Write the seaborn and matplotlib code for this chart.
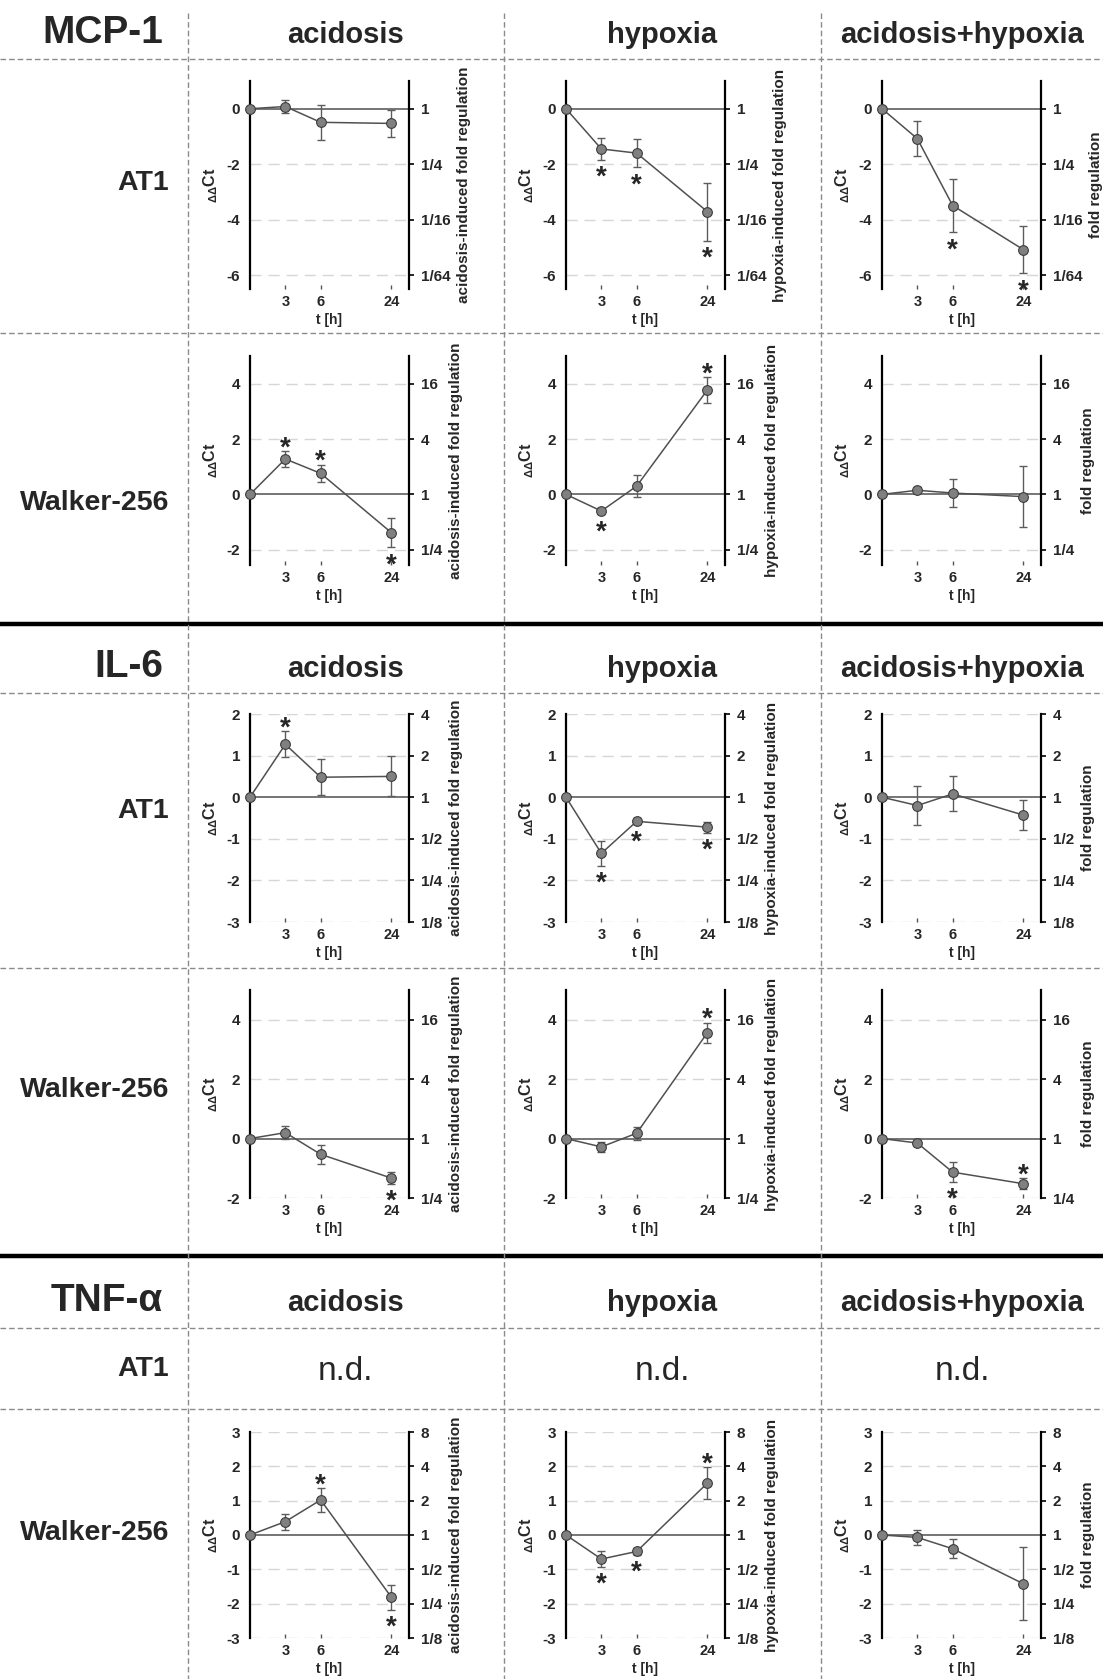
import matplotlib
matplotlib.use("Agg")
import matplotlib.pyplot as plt
from matplotlib.lines import Line2D
import pandas as pd
import seaborn as sns

sns.set_theme(style="white")
plt.rcParams["font.family"] = ["Liberation Sans", "DejaVu Sans"]
plt.rcParams["font.weight"] = "bold"
plt.rcParams["axes.labelweight"] = "bold"
plt.rcParams["axes.unicode_minus"] = False
plt.rcParams["mathtext.fontset"] = "custom"
plt.rcParams["mathtext.rm"] = "Liberation Sans"
plt.rcParams["mathtext.bf"] = "Liberation Sans:bold"
plt.rcParams["mathtext.it"] = "Liberation Sans:italic"

W, H = 1103, 1679
fig = plt.figure(figsize=(W / 100, H / 100), dpi=100)

# ---------------------------------------------------------------- data
genes = ["MCP-1", "IL-6", "TNF-α"]
conditions = ["acidosis", "hypoxia", "acidosis+hypoxia"]
cell_lines = ["AT1", "Walker-256"]
time_labels = ["3", "6", "24"]
x_pos = [0, 1, 2, 4]          # t = 0, 3, 6, 24 h drawn at category slots

# MCP-1, AT1
mcp1_at1_acid = [0, 0.08, -0.49, -0.53]
mcp1_at1_acid_err = [0, 0.23, 0.64, 0.48]
mcp1_at1_acid_sig = ["", "", "", ""]
mcp1_at1_hyp = [0, -1.45, -1.60, -3.71]
mcp1_at1_hyp_err = [0, 0.39, 0.51, 1.05]
mcp1_at1_hyp_sig = ["", "d", "d", "d"]
mcp1_at1_ah = [0, -1.08, -3.49, -5.08]
mcp1_at1_ah_err = [0, 0.64, 0.97, 0.85]
mcp1_at1_ah_sig = ["", "", "d", "d"]

# MCP-1, Walker-256
mcp1_wk_acid = [0, 1.28, 0.76, -1.38]
mcp1_wk_acid_err = [0, 0.28, 0.31, 0.53]
mcp1_wk_acid_sig = ["", "u", "u", "d"]
mcp1_wk_hyp = [0, -0.60, 0.30, 3.77]
mcp1_wk_hyp_err = [0, 0.12, 0.40, 0.47]
mcp1_wk_hyp_sig = ["", "d", "", "u"]
mcp1_wk_ah = [0, 0.15, 0.05, -0.08]
mcp1_wk_ah_err = [0, 0.10, 0.50, 1.10]
mcp1_wk_ah_sig = ["", "", "", ""]

# IL-6, AT1
il6_at1_acid = [0, 1.27, 0.48, 0.50]
il6_at1_acid_err = [0, 0.31, 0.43, 0.48]
il6_at1_acid_sig = ["", "u", "", ""]
il6_at1_hyp = [0, -1.35, -0.58, -0.72]
il6_at1_hyp_err = [0, 0.30, 0.07, 0.13]
il6_at1_hyp_sig = ["", "d", "d", "d"]
il6_at1_ah = [0, -0.20, 0.08, -0.43]
il6_at1_ah_err = [0, 0.48, 0.42, 0.37]
il6_at1_ah_sig = ["", "", "", ""]

# IL-6, Walker-256
il6_wk_acid = [0, 0.20, -0.53, -1.33]
il6_wk_acid_err = [0, 0.22, 0.33, 0.19]
il6_wk_acid_sig = ["", "", "", "d"]
il6_wk_hyp = [0, -0.28, 0.18, 3.56]
il6_wk_hyp_err = [0, 0.18, 0.22, 0.34]
il6_wk_hyp_sig = ["", "", "", "u"]
il6_wk_ah = [0, -0.15, -1.13, -1.52]
il6_wk_ah_err = [0, 0.08, 0.33, 0.18]
il6_wk_ah_sig = ["", "", "d", "u"]

# TNF-alpha, Walker-256 (AT1 not detectable)
tnf_wk_acid = [0, 0.39, 1.02, -1.81]
tnf_wk_acid_err = [0, 0.23, 0.35, 0.36]
tnf_wk_acid_sig = ["", "", "u", "d"]
tnf_wk_hyp = [0, -0.70, -0.48, 1.51]
tnf_wk_hyp_err = [0, 0.22, 0.10, 0.47]
tnf_wk_hyp_sig = ["", "d", "d", "u"]
tnf_wk_ah = [0, -0.07, -0.40, -1.42]
tnf_wk_ah_err = [0, 0.22, 0.27, 1.06]
tnf_wk_ah_sig = ["", "", "", ""]

# axis scales (delta-delta-Ct and matching fold regulation)
scale_mcp_at1 = dict(ylim=(-6.5, 1), ticks=[-6, -4, -2, 0], fold=["1/64", "1/16", "1/4", "1"])
scale_wide = dict(ylim=(-2.55, 5), ticks=[-2, 0, 2, 4], fold=["1/4", "1", "4", "16"])
scale_wide_b = dict(ylim=(-2, 5), ticks=[-2, 0, 2, 4], fold=["1/4", "1", "4", "16"])
scale_il6_at1 = dict(ylim=(-3, 2), ticks=[-3, -2, -1, 0, 1, 2],
                     fold=["1/8", "1/4", "1/2", "1", "2", "4"])
scale_tnf = dict(ylim=(-3, 3), ticks=[-3, -2, -1, 0, 1, 2, 3],
                 fold=["1/8", "1/4", "1/2", "1", "2", "4", "8"])

# ---------------------------------------------------------------- layout (pixels)
col_edges = [187.5, 503.5, 821]
col_centers = [345, 662, 962]
panel_left = [250, 566, 882]
panel_w = 159
section_y = [33, 667, 1301]
row_label_y = [183, 503, 811, 1090, 1369, 1533]
dash_rules = [59, 333, 693, 968, 1328, 1409]
thick_rules = [624, 1256]
nd_y = 1372

FRAME = "#8a8a8a"
LINE = "#505050"


def fx(px):
    return px / W


def fy(py):
    return 1 - py / H


def right_title(ci):
    return "fold regulation" if ci == 2 else f"{conditions[ci]}-induced fold regulation"


def bold_ticks(axis_labels):
    for lbl in axis_labels:
        lbl.set_fontweight("bold")


def draw_panel(ci, top, bottom, vals, errs, sig, scale):
    ax = fig.add_axes([fx(panel_left[ci]), fy(bottom), panel_w / W, (bottom - top) / H])
    ax.set_facecolor("none")
    ax.set_xlim(0, 4.5)
    ax.set_ylim(*scale["ylim"])
    for yt in scale["ticks"]:
        if yt == 0:
            ax.axhline(0, color=LINE, lw=1.1, zorder=1)
        else:
            ax.axhline(yt, color="#d6d6d6", lw=1.0, ls=(0, (8, 5)), zorder=0)

    ax.errorbar(x_pos, vals, yerr=errs, fmt="none", ecolor="#5c5c5c",
                elinewidth=1.0, capsize=3, capthick=1.0, zorder=2, clip_on=False)
    df = pd.DataFrame({"t": x_pos, "ddct": vals})
    sns.lineplot(data=df, x="t", y="ddct", ax=ax, color=LINE, lw=1.1,
                 marker="o", markersize=7, markerfacecolor="#808080",
                 markeredgecolor="#3c3c3c", markeredgewidth=0.8,
                 errorbar=None, zorder=3, clip_on=False)

    for xp, v, e, s in zip(x_pos, vals, errs, sig):
        if s == "u":
            ax.annotate("*", (xp, v + e), xytext=(0, -3), textcoords="offset points",
                        ha="center", va="baseline", fontsize=20, fontweight="bold",
                        annotation_clip=False)
        elif s == "d":
            ax.annotate("*", (xp, v - e), xytext=(0, -18), textcoords="offset points",
                        ha="center", va="baseline", fontsize=20, fontweight="bold",
                        annotation_clip=False)

    for side in ["top", "bottom", "right"]:
        ax.spines[side].set_visible(False)
    ax.spines["left"].set_color("black")
    ax.spines["left"].set_linewidth(1.6)

    ax.set_yticks(scale["ticks"])
    ax.set_yticklabels([str(t) for t in scale["ticks"]])
    ax.tick_params(axis="y", left=True, length=0, pad=7, labelsize=11)
    ax.set_xticks(x_pos[1:])
    ax.set_xticklabels(time_labels)
    ax.tick_params(axis="x", bottom=True, direction="in", length=3, width=1,
                   color="#555555", pad=4, labelsize=10.5)
    bold_ticks(ax.get_yticklabels())
    bold_ticks(ax.get_xticklabels())
    ax.set_xlabel("t [h]", fontsize=10, fontweight="bold", labelpad=3)
    ax.set_ylabel(r"$_{\mathbf{\Delta\Delta}}\mathbf{Ct}$", fontsize=11.5, labelpad=5)

    tw = ax.twinx()
    tw.set_ylim(*scale["ylim"])
    tw.set_yticks(scale["ticks"])
    tw.set_yticklabels(scale["fold"])
    tw.tick_params(axis="y", right=True, direction="out", length=3.5, width=1.2,
                   color="black", pad=5, labelsize=11)
    bold_ticks(tw.get_yticklabels())
    for side in ["top", "bottom", "left"]:
        tw.spines[side].set_visible(False)
    tw.spines["right"].set_color("black")
    tw.spines["right"].set_linewidth(1.6)
    tw.set_ylabel(right_title(ci), fontsize=11, fontweight="bold", labelpad=5)
    return ax


panels = [
    # (top, bottom, scale, [(vals, errs, sig) per condition])
    (81, 289, scale_mcp_at1, [(mcp1_at1_acid, mcp1_at1_acid_err, mcp1_at1_acid_sig),
                              (mcp1_at1_hyp, mcp1_at1_hyp_err, mcp1_at1_hyp_sig),
                              (mcp1_at1_ah, mcp1_at1_ah_err, mcp1_at1_ah_sig)]),
    (356, 565, scale_wide, [(mcp1_wk_acid, mcp1_wk_acid_err, mcp1_wk_acid_sig),
                            (mcp1_wk_hyp, mcp1_wk_hyp_err, mcp1_wk_hyp_sig),
                            (mcp1_wk_ah, mcp1_wk_ah_err, mcp1_wk_ah_sig)]),
    (714, 922, scale_il6_at1, [(il6_at1_acid, il6_at1_acid_err, il6_at1_acid_sig),
                               (il6_at1_hyp, il6_at1_hyp_err, il6_at1_hyp_sig),
                               (il6_at1_ah, il6_at1_ah_err, il6_at1_ah_sig)]),
    (990, 1198, scale_wide_b, [(il6_wk_acid, il6_wk_acid_err, il6_wk_acid_sig),
                               (il6_wk_hyp, il6_wk_hyp_err, il6_wk_hyp_sig),
                               (il6_wk_ah, il6_wk_ah_err, il6_wk_ah_sig)]),
    (1432, 1638, scale_tnf, [(tnf_wk_acid, tnf_wk_acid_err, tnf_wk_acid_sig),
                             (tnf_wk_hyp, tnf_wk_hyp_err, tnf_wk_hyp_sig),
                             (tnf_wk_ah, tnf_wk_ah_err, tnf_wk_ah_sig)]),
]

for top, bottom, scale, series in panels:
    for ci, (vals, errs, sig) in enumerate(series):
        draw_panel(ci, top, bottom, vals, errs, sig, scale)

# ---------------------------------------------------------------- table frame
for y in dash_rules:
    fig.add_artist(Line2D([0, 1], [fy(y), fy(y)], transform=fig.transFigure,
                          color=FRAME, lw=1.0, ls=(0, (4, 2.2))))
for y in thick_rules:
    fig.add_artist(Line2D([0, 1], [fy(y), fy(y)], transform=fig.transFigure,
                          color="black", lw=3.2))
for x in col_edges:
    fig.add_artist(Line2D([fx(x), fx(x)], [fy(13), 0], transform=fig.transFigure,
                          color=FRAME, lw=1.0, ls=(0, (4, 2.2))))

# ---------------------------------------------------------------- headers
for gene, y in zip(genes, section_y):
    fig.text(fx(163), fy(y), gene, ha="right", va="center", fontsize=28, fontweight="bold")
    for cond, cx in zip(conditions, col_centers):
        fig.text(fx(cx), fy(y + 2), cond, ha="center", va="center", fontsize=21,
                 fontweight="bold")

row_names = [cell_lines[0], cell_lines[1]] * 3
for name, y in zip(row_names, row_label_y):
    fig.text(fx(169), fy(y), name, ha="right", va="center", fontsize=20.5, fontweight="bold")

for cx in col_centers:
    fig.text(fx(cx), fy(nd_y), "n.d.", ha="center", va="center",
             fontsize=24, fontweight="normal")

fig.savefig("out.png", dpi=100)
